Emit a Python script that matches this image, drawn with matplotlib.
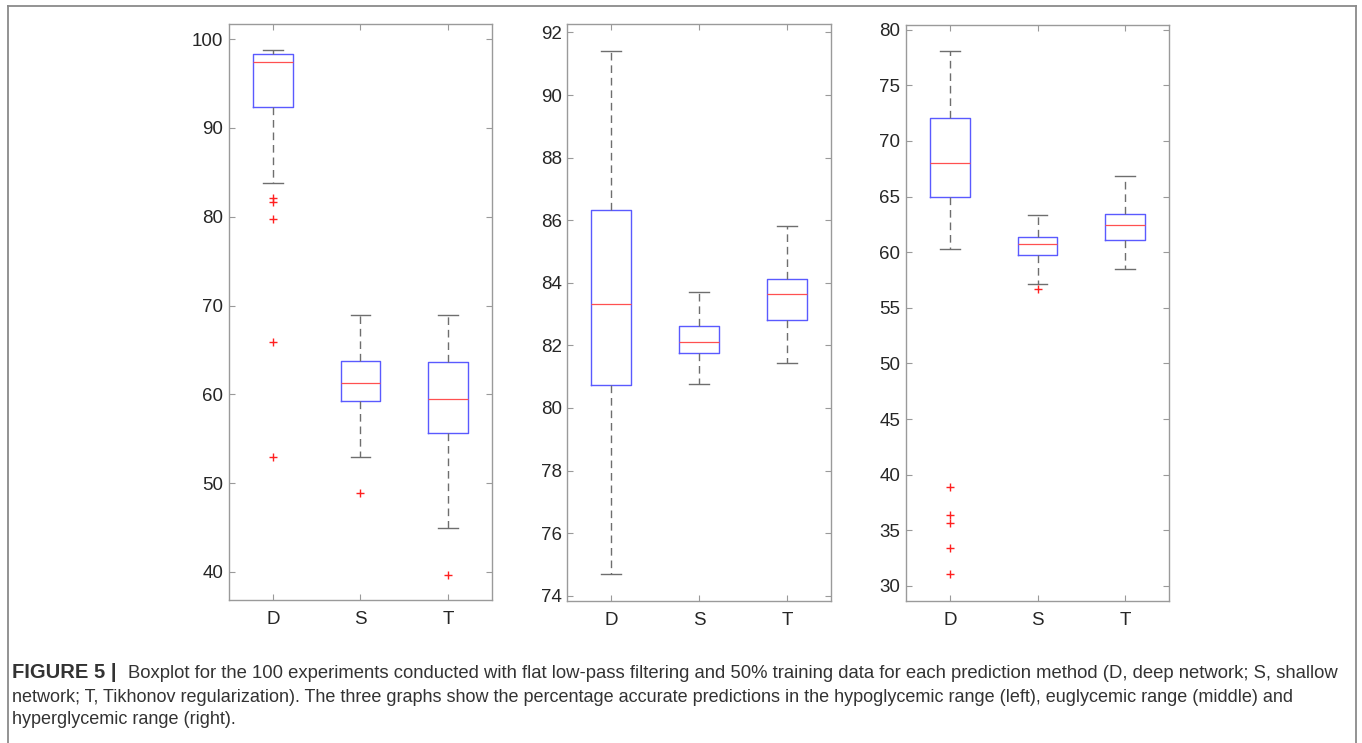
import numpy as np
import matplotlib
matplotlib.use('Agg')
import matplotlib.pyplot as plt
from matplotlib.lines import Line2D

# metoder (D = deep, S = shallow, T = Tikhonov)
metoder = ['D', 'S', 'T']

# hypoglykemisk område (venstre)
hypo_q1 = [92.35, 59.2, 55.64]
hypo_med = [97.4, 61.24, 59.5]
hypo_q3 = [98.35, 63.75, 63.6]
hypo_lo = [83.8, 53.0, 45.0]
hypo_hi = [98.75, 68.9, 68.97]
hypo_fliers = [[82.06, 81.7, 79.7, 65.86, 52.96], [48.9], [39.7]]

# euglykemisk område (midten)
eu_q1 = [80.73, 81.77, 82.8]
eu_med = [83.31, 82.12, 83.65]
eu_q3 = [86.33, 82.61, 84.12]
eu_lo = [74.68, 80.77, 81.44]
eu_hi = [91.41, 83.71, 85.82]
eu_fliers = [[], [], []]

# hyperglykemisk område (høyre)
hyper_q1 = [64.93, 59.70, 61.05]
hyper_med = [68.05, 60.69, 62.48]
hyper_q3 = [72.06, 61.40, 63.47]
hyper_lo = [60.24, 57.1, 58.5]
hyper_hi = [78.08, 63.38, 66.85]
hyper_fliers = [[38.87, 36.4, 35.63, 33.44, 31.05], [56.7], []]

# akser: grenser og ticks
ylims = [(36.85, 101.7), (73.83, 92.26), (28.65, 80.41)]
yticks = [np.arange(40, 101, 10), np.arange(74, 93, 2), np.arange(30, 81, 5)]

caption_bold = 'FIGURE 5 |'
caption_lines = [
    'Boxplot for the 100 experiments conducted with flat low-pass filtering and 50% training data for each prediction method (D, deep network; S, shallow',
    'network; T, Tikhonov regularization). The three graphs show the percentage accurate predictions in the hypoglycemic range (left), euglycemic range (middle) and',
    'hyperglycemic range (right).',
]

plt.rcParams['font.family'] = ['Liberation Sans', 'DejaVu Sans']


def lag_stats(q1, med, q3, lo, hi, fliers):
    stats = []
    for i in range(len(metoder)):
        stats.append({'label': metoder[i], 'q1': q1[i], 'med': med[i], 'q3': q3[i],
                      'whislo': lo[i], 'whishi': hi[i], 'fliers': fliers[i]})
    return stats


alle_stats = [
    lag_stats(hypo_q1, hypo_med, hypo_q3, hypo_lo, hypo_hi, hypo_fliers),
    lag_stats(eu_q1, eu_med, eu_q3, eu_lo, eu_hi, eu_fliers),
    lag_stats(hyper_q1, hyper_med, hyper_q3, hyper_lo, hyper_hi, hyper_fliers),
]

fig = plt.figure(figsize=(13.62, 7.43), dpi=100)

# posisjoner for de tre panelene (figurkoordinater)
posisjoner = [[0.1681, 0.1925, 0.1931, 0.7752],
              [0.4165, 0.1911, 0.1936, 0.7762],
              [0.6652, 0.1911, 0.1931, 0.7752]]

for k in range(3):
    ax = fig.add_axes(posisjoner[k])
    ax.bxp(alle_stats[k], positions=[1, 2, 3], widths=0.45, capwidths=0.224,
           boxprops=dict(color='#5a5aff', linewidth=1.0),
           medianprops=dict(color='#ff5050', linewidth=0.9),
           whiskerprops=dict(color='#6e6e6e', linewidth=1.0, dashes=(5.5, 3.5)),
           capprops=dict(color='#6e6e6e', linewidth=1.0),
           flierprops=dict(marker='+', markeredgecolor='#ff2020', markersize=6,
                           markeredgewidth=1.0, linestyle='none'))
    ax.set_xlim(0.5, 3.5)
    ax.set_ylim(ylims[k])
    ax.set_yticks(yticks[k])
    ax.set_xticks([1, 2, 3])
    ax.set_xticklabels(metoder)
    for s in ax.spines.values():
        s.set_color('#9a9a9a')
        s.set_linewidth(1.0)
    ax.tick_params(axis='both', direction='in', length=4, width=0.8, color='#9a9a9a',
                   labelsize=13.5, labelcolor='#262626', top=True, right=True)
    ax.tick_params(axis='x', pad=8)
    ax.tick_params(axis='y', pad=4)

# ramme rundt figuren (ingen bunnlinje)
ramme_farge = '#8a8a8a'
fig.add_artist(Line2D([0.0059, 0.0059], [0.9919, -0.01], color=ramme_farge, lw=1.3))
fig.add_artist(Line2D([0.9956, 0.9956], [0.9919, -0.01], color=ramme_farge, lw=1.3))
fig.add_artist(Line2D([0.0059, 0.9956], [0.9919, 0.9919], color=ramme_farge, lw=1.3))

# figurtekst
y_linjer = [0.0875, 0.0552, 0.0256]
x0 = 12 / 1362
t_bold = fig.text(x0, y_linjer[0], caption_bold, fontsize=14.5, fontweight='bold',
                  color='#333333', va='baseline', ha='left')
fig.canvas.draw()
bredde = t_bold.get_window_extent().width / fig.bbox.width
fig.text(x0 + bredde + 12 / 1362, y_linjer[0], caption_lines[0], fontsize=13.3, color='#333333',
         va='baseline', ha='left')
for i in range(1, 3):
    fig.text(x0, y_linjer[i], caption_lines[i], fontsize=13, color='#333333',
             va='baseline', ha='left')

fig.savefig('out.png', dpi=100)
